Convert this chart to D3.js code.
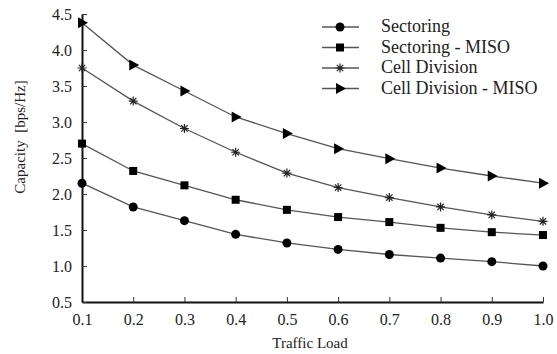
<!DOCTYPE html>
<html lang="en">
<head>
    <meta charset="UTF-8">
    <title>Capacity vs Traffic Load</title>
    <script src="https://d3js.org/d3.v7.min.js"></script>
    <style>
        body { margin: 0; background: #fff; }
        svg text { font-family: "Liberation Serif", "DejaVu Serif", serif !important; fill: #222; }
        .series-line { fill: none; stroke: #555; stroke-width: 1.3px; }
    </style>
</head>
<body>
    <svg id="chart"></svg>
    <script>
        const width = 557;
        const height = 354;
        const serif = '"Liberation Serif", "DejaVu Serif", serif';

        // Data
        const trafficLoad = [0.1, 0.2, 0.3, 0.4, 0.5, 0.6, 0.7, 0.8, 0.9, 1.0];
        const sectoring = [2.15, 1.82, 1.63, 1.44, 1.32, 1.23, 1.16, 1.11, 1.06, 1.00];
        const sectoringMiso = [2.70, 2.32, 2.12, 1.92, 1.78, 1.68, 1.61, 1.53, 1.47, 1.43];
        const cellDivision = [3.75, 3.29, 2.91, 2.58, 2.29, 2.09, 1.95, 1.82, 1.71, 1.62];
        const cellDivisionMiso = [4.38, 3.79, 3.43, 3.07, 2.84, 2.63, 2.49, 2.36, 2.25, 2.15];
        const xTicks = [0.1, 0.2, 0.3, 0.4, 0.5, 0.6, 0.7, 0.8, 0.9, 1.0];
        const yTicks = [0.5, 1.0, 1.5, 2.0, 2.5, 3.0, 3.5, 4.0, 4.5];

        const series = [
            { name: 'Sectoring', values: sectoring, marker: 'circle' },
            { name: 'Sectoring - MISO', values: sectoringMiso, marker: 'square' },
            { name: 'Cell Division', values: cellDivision, marker: 'star' },
            { name: 'Cell Division - MISO', values: cellDivisionMiso, marker: 'triangle' }
        ];

        const margin = { left: 82, right: 14, top: 14, bottom: 52 };

        const svg = d3.select('#chart')
            .attr('width', width)
            .attr('height', height);

        const x = d3.scaleLinear().domain([0.1, 1.0]).range([margin.left, width - margin.right]);
        const y = d3.scaleLinear().domain([0.5, 4.5]).range([height - margin.bottom, margin.top]);

        // axes with inward ticks
        const xAxis = svg.append('g')
            .attr('transform', `translate(0,${y(0.5)})`)
            .call(d3.axisBottom(x).tickValues(xTicks).tickFormat(d3.format('.1f')).tickSizeInner(-5).tickSizeOuter(0).tickPadding(12));
        const yAxis = svg.append('g')
            .attr('transform', `translate(${x(0.1)},0)`)
            .call(d3.axisLeft(y).tickValues(yTicks).tickFormat(d3.format('.1f')).tickSizeInner(-5).tickSizeOuter(0).tickPadding(10));

        [xAxis, yAxis].forEach(g => {
            g.attr('font-family', serif);
            g.select('.domain').attr('stroke', '#111').attr('stroke-width', 2);
            g.selectAll('.tick line').attr('stroke', '#333').attr('stroke-width', 1);
            g.selectAll('.tick text').style('font-size', '16px').attr('fill', '#222');
        });

        // axis titles
        svg.append('text')
            .attr('x', 310)
            .attr('y', 348)
            .attr('text-anchor', 'middle')
            .style('font-size', '15px')
            .text('Traffic Load');

        svg.append('text')
            .attr('transform', 'translate(25,137) rotate(-90)')
            .attr('text-anchor', 'middle')
            .style('font-size', '15px')
            .style('white-space', 'pre')
            .text('Capacity  [bps/Hz]');

        // marker drawing
        function drawMarker(g, type, cx, cy) {
            if (type === 'circle') {
                g.append('circle').attr('cx', cx).attr('cy', cy).attr('r', 4.5).attr('fill', '#000');
            } else if (type === 'square') {
                g.append('rect').attr('x', cx - 4).attr('y', cy - 4).attr('width', 8).attr('height', 8).attr('fill', '#000');
            } else if (type === 'star') {
                const r = 4.5;
                const p = [];
                for (let i = 0; i < 4; i++) {
                    const a = i * Math.PI / 4;
                    p.push(`M${cx - r * Math.cos(a)},${cy - r * Math.sin(a)}L${cx + r * Math.cos(a)},${cy + r * Math.sin(a)}`);
                }
                g.append('path').attr('d', p.join('')).attr('stroke', '#222').attr('stroke-width', 1.2).attr('fill', 'none');
            } else if (type === 'triangle') {
                g.append('path')
                    .attr('d', `M${cx - 4},${cy - 5.5}L${cx + 6},${cy}L${cx - 4},${cy + 5.5}Z`)
                    .attr('fill', '#000');
            }
        }

        const line = d3.line()
            .x((d, i) => x(trafficLoad[i]))
            .y(d => y(d));

        series.forEach(s => {
            svg.append('path')
                .datum(s.values)
                .attr('class', 'series-line')
                .attr('d', line);
            const mg = svg.append('g');
            s.values.forEach((v, i) => drawMarker(mg, s.marker, x(trafficLoad[i]), y(v)));
        });

        // legend
        const legend = svg.append('g');
        series.forEach((s, i) => {
            const ly = 27 + i * 20.5;
            legend.append('line')
                .attr('x1', 322).attr('x2', 359)
                .attr('y1', ly).attr('y2', ly)
                .attr('stroke', '#555').attr('stroke-width', 1.3);
            drawMarker(legend, s.marker, 340, ly);
            legend.append('text')
                .attr('x', 381)
                .attr('y', ly + 5)
                .style('font-size', '18px')
                .text(s.name);
        });
    </script>
</body>
</html>
